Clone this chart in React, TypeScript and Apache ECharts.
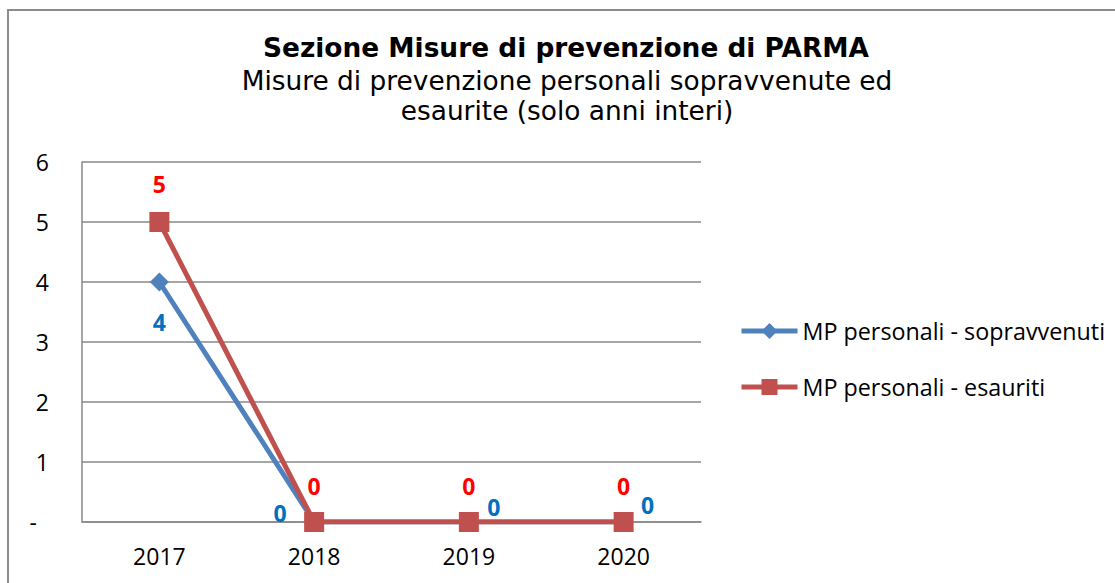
import React, { useEffect, useRef } from "react";
import * as echarts from "echarts";

const categories = ["2017", "2018", "2019", "2020"];
const sopravvenuti = [4, 0, 0, 0];
const esauriti = [5, 0, 0, 0];
const seriesNames = ["MP personali - sopravvenuti", "MP personali - esauriti"];
const titleText = "Sezione Misure di prevenzione di PARMA";
const subtitleLines = ["Misure di prevenzione personali sopravvenute ed", "esaurite (solo anni interi)"];

// label placement (styling, not data)
const blueLabelOffsets = [[0, 40], [-34, -9], [25, -15], [24, -17]];
const redLabelOffsets = [[0, -38], [0, -36], [0, -36], [0, -36]];

const AXIS_FONT = "'Open Sans', sans-serif";
const TITLE_FONT = "'DejaVu Sans', Verdana, sans-serif";

export default function App() {
  const ref = useRef<HTMLDivElement>(null);
  useEffect(() => {
    if (!ref.current) return;
    const chart = echarts.init(ref.current, null, { renderer: "svg" });
    const mkData = (vals: number[], offs: number[][], color: string) =>
      vals.map((v, i) => ({
        value: v,
        label: {
          show: true,
          position: "inside",
          offset: offs[i],
          color,
          fontFamily: AXIS_FONT,
          fontWeight: "bold",
          fontSize: 23,
        },
      }));
    chart.setOption({
      animation: false,
      backgroundColor: "#ffffff",
      graphic: [
        {
          type: "rect",
          shape: { x: 8, y: 10, width: 1300, height: 800 },
          style: { fill: "none", stroke: "#8c8c8c", lineWidth: 2 },
          silent: true,
        },
        {
          type: "text",
          x: 566,
          y: 47,
          style: {
            text: titleText,
            align: "center",
            verticalAlign: "middle",
            fontFamily: TITLE_FONT,
            fontWeight: "bold",
            fontSize: 26.4,
            fill: "#000",
          },
        },
        {
          type: "text",
          x: 567,
          y: 80,
          style: {
            text: subtitleLines[0],
            align: "center",
            verticalAlign: "middle",
            fontFamily: TITLE_FONT,
            fontSize: 26.4,
            fill: "#000",
          },
        },
        {
          type: "text",
          x: 567,
          y: 110,
          style: {
            text: subtitleLines[1],
            align: "center",
            verticalAlign: "middle",
            fontFamily: TITLE_FONT,
            fontSize: 26.4,
            fill: "#000",
          },
        },
      ],
      grid: { left: 82, top: 162, right: 414, bottom: 61, containLabel: false },
      legend: {
        orient: "vertical",
        left: 739,
        top: 318,
        padding: 0,
        itemWidth: 56,
        itemHeight: 20,
        itemGap: 30,
        lineStyle: { width: 5 },
        textStyle: { fontFamily: AXIS_FONT, fontSize: 23.3, color: "#000", lineHeight: 26 },
        data: seriesNames,
      },
      xAxis: {
        type: "category",
        data: categories,
        boundaryGap: true,
        axisLine: { show: true, lineStyle: { color: "#898989", width: 1.5 } },
        axisTick: { show: false },
        axisLabel: { margin: 22, fontFamily: AXIS_FONT, fontSize: 23, color: "#000" },
        splitLine: { show: false },
      },
      yAxis: {
        type: "value",
        min: 0,
        max: 6,
        interval: 1,
        axisLine: { show: true, lineStyle: { color: "#898989", width: 1.5 } },
        axisTick: { show: false },
        splitLine: { show: true, lineStyle: { color: "#898989", width: 1.5 } },
        axisLabel: {
          margin: 33,
          fontFamily: AXIS_FONT,
          fontSize: 23,
          color: "#000",
          formatter: (v: number) => (v === 0 ? "{d|-}" : String(v)),
          rich: { d: { fontFamily: AXIS_FONT, fontSize: 23, color: "#000", padding: [0, 12, 0, 0] } },
        },
      },
      series: [
        {
          name: seriesNames[0],
          type: "line",
          data: mkData(sopravvenuti, blueLabelOffsets, "#0070C0"),
          symbol: "diamond",
          symbolSize: 19,
          lineStyle: { color: "#4F81BD", width: 5 },
          itemStyle: { color: "#4F81BD" },
        },
        {
          name: seriesNames[1],
          type: "line",
          data: mkData(esauriti, redLabelOffsets, "#FF0000"),
          symbol: "rect",
          symbolSize: 20,
          lineStyle: { color: "#C0504D", width: 5 },
          itemStyle: { color: "#C0504D" },
        },
      ],
    });
    return () => chart.dispose();
  }, []);
  return (
    <div
      ref={ref}
      style={{ position: "absolute", left: 0, top: 0, width: 1115, height: 583 }}
    />
  );
}
